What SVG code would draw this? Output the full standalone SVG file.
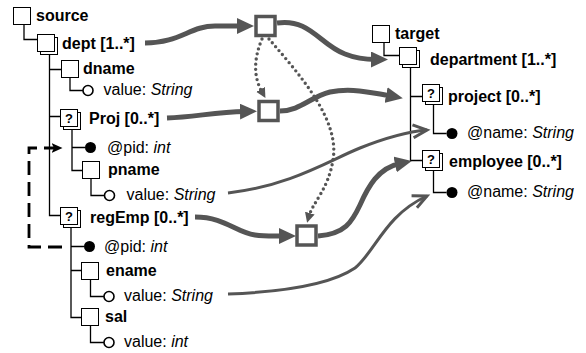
<svg xmlns="http://www.w3.org/2000/svg" xmlns:xlink="http://www.w3.org/1999/xlink" width="586" height="353" viewBox="0 0 586 353">
  <style>
    text { font-family: "Liberation Sans", Arial, sans-serif; font-size: 16px; fill: #000; }
    .lbl { font-weight: bold; }
    .q { font-weight: bold; font-size: 13px; text-anchor: middle; }
    .box { fill: #fff; stroke: #000; stroke-width: 1; }
    .tree { fill: none; stroke: #000; stroke-width: 1.3; }
    .attr { fill: #000; }
    .val { fill: #fff; stroke: #000; stroke-width: 1.6; }
    .map { fill: #fff; stroke: #555; stroke-width: 3.5; }
    .thick { fill: none; stroke: #555; stroke-width: 5; marker-end: url(#head); }
    .thin { fill: none; stroke: #555; stroke-width: 3; marker-end: url(#open); }
    .dots { fill: none; stroke: #555; stroke-width: 3.4; stroke-linecap: round; stroke-dasharray: 0 5.2; marker-end: url(#small); }
    .fk { fill: none; stroke: #000; stroke-width: 2.8; stroke-dasharray: 14 7; marker-end: url(#chev); }
  </style>
  <defs>
    <!-- element icons -->
    <rect id="elem" class="box" x="0" y="0" width="17" height="17"/>
    <g id="set">
      <rect class="box" x="3" y="3" width="17" height="17"/>
      <rect class="box" x="0" y="0" width="17" height="17"/>
    </g>
    <g id="opt">
      <use xlink:href="#set"/>
      <text class="q" x="8.5" y="13.5">?</text>
    </g>
    <!-- arrowheads -->
    <marker id="head" markerUnits="userSpaceOnUse" markerWidth="18" markerHeight="16" refX="5" refY="8" orient="auto" viewBox="0 0 18 16">
      <path d="M0,0 L17,8 L0,16 Z" fill="#555"/>
    </marker>
    <marker id="open" markerUnits="userSpaceOnUse" markerWidth="20" markerHeight="16" refX="15" refY="8" orient="auto" viewBox="0 0 20 16">
      <path d="M1,1.5 L15,8 L1,14.5" fill="none" stroke="#555" stroke-width="3" stroke-linejoin="miter"/>
    </marker>
    <marker id="small" markerUnits="userSpaceOnUse" markerWidth="12" markerHeight="12" refX="3" refY="6" orient="auto" viewBox="0 0 12 12">
      <path d="M0,1 L10,6 L0,11 Z" fill="#555"/>
    </marker>
    <marker id="chev" markerUnits="userSpaceOnUse" markerWidth="12" markerHeight="12" refX="2.5" refY="5" orient="auto" viewBox="0 0 12 10">
      <path d="M0,0 L11,5 L0,10 L2.5,5 Z" fill="#000"/>
    </marker>
  </defs>

  <g id="connectors">
    <!-- source tree edges -->
    <path class="tree" d="M24,24.5 V39.5 H37.5"/>
    <path class="tree" d="M49.5,54.5 V215.5 H60.5 M49.5,69.5 H61.5 M49.5,116.5 H60.5"/>
    <path class="tree" d="M70,77.5 V90.5 H83"/>
    <path class="tree" d="M72,129.5 V170.5 H82.5 M72,147.5 H85"/>
    <path class="tree" d="M91,178.5 V195.5 H104.5"/>
    <path class="tree" d="M71,227.5 V317.5 H81.5 M71,246.5 H84 M71,270.5 H81.5"/>
    <path class="tree" d="M90.5,279.5 V296.5 H104"/>
    <path class="tree" d="M90.5,325.5 V342.5 H104"/>
    <!-- target tree edges -->
    <path class="tree" d="M384,42.5 V55.5 H399.5"/>
    <path class="tree" d="M410.5,67.5 V160.5 H422.5 M410.5,96.5 H422.5"/>
    <path class="tree" d="M433.5,104.5 V133.5 H446.5"/>
    <path class="tree" d="M433.5,170.5 V192.5 H446.5"/>
    <!-- key reference -->
    <path class="fk" d="M62,247 H29 V148 H54"/>
    <!-- mapping flows -->
    <path class="thick" d="M145,43 C180,43 190,26 215,26 L242,26"/>
    <path class="thick" d="M277,23 C310,18 320,45 345,54 C355,58 365,59.5 376,59.5"/>
    <path class="thick" d="M167,118 C195,117 215,112 245,111.5"/>
    <path class="thick" d="M280,111 C300,111 310,97 330,92 C350,88 370,92 391,96"/>
    <path class="thick" d="M195,217 C225,217 235,232 255,235 C265,236.5 275,236 284,236"/>
    <path class="thick" d="M318,236 C345,234 352,222 360,205 C368,187 378,168 400,163.5"/>
    <path class="thin" d="M228,193 C290,186 330,160 360,148 C385,138 405,132 427,130"/>
    <path class="thin" d="M228,294 C280,292 330,285 355,268 C375,252 385,215 427,196"/>
    <path class="dots" d="M262,39 C254,58 253,76 262,92"/>
    <path class="dots" d="M269,39 C300,75 340,120 333,160 C328,190 313,202 309,216"/>
  </g>

  <!-- source schema -->
  <g id="n-source"><use xlink:href="#elem" x="13.5" y="7.5"/><text class="lbl" x="36" y="21">source</text></g>
  <g id="n-dept"><use xlink:href="#set" x="37.5" y="34.5"/><text class="lbl" x="62" y="49">dept [1..*]</text></g>
  <g id="n-dname"><use xlink:href="#elem" x="61.5" y="60.5"/><text class="lbl" x="83" y="74">dname</text></g>
  <g id="n-dname-value"><circle class="val" cx="88" cy="90.5" r="5"/><text x="103.5" y="95">value: <tspan font-style="italic">String</tspan></text></g>
  <g id="n-proj"><use xlink:href="#opt" x="60.5" y="109.5"/><text class="lbl" x="89" y="124">Proj [0..*]</text></g>
  <g id="n-proj-pid"><circle class="attr" cx="90.5" cy="147.5" r="5.5"/><text x="107" y="152.5">@pid: <tspan font-style="italic">int</tspan></text></g>
  <g id="n-pname"><use xlink:href="#elem" x="82.5" y="161.5"/><text class="lbl" x="108" y="175">pname</text></g>
  <g id="n-pname-value"><circle class="val" cx="109.5" cy="195.5" r="5"/><text x="126.5" y="200">value: <tspan font-style="italic">String</tspan></text></g>
  <g id="n-regemp"><use xlink:href="#opt" x="60.5" y="207.5"/><text class="lbl" x="90" y="223">regEmp [0..*]</text></g>
  <g id="n-regemp-pid"><circle class="attr" cx="89.5" cy="246.5" r="5.5"/><text x="104" y="251.5">@pid: <tspan font-style="italic">int</tspan></text></g>
  <g id="n-ename"><use xlink:href="#elem" x="81.5" y="262.5"/><text class="lbl" x="106" y="276">ename</text></g>
  <g id="n-ename-value"><circle class="val" cx="109" cy="296.5" r="5"/><text x="124" y="301">value: <tspan font-style="italic">String</tspan></text></g>
  <g id="n-sal"><use xlink:href="#elem" x="81.5" y="308.5"/><text class="lbl" x="105" y="322">sal</text></g>
  <g id="n-sal-value"><circle class="val" cx="109" cy="342.5" r="5"/><text x="124" y="347">value: <tspan font-style="italic">int</tspan></text></g>

  <!-- mapping nodes -->
  <g id="m1"><rect class="map" x="256" y="16.5" width="19" height="19"/></g>
  <g id="m2"><rect class="map" x="259" y="101.5" width="19" height="19"/></g>
  <g id="m3"><rect class="map" x="297" y="226" width="19" height="19"/></g>

  <!-- target schema -->
  <g id="n-target"><use xlink:href="#elem" x="372.5" y="25.5"/><text class="lbl" x="395" y="39">target</text></g>
  <g id="n-department"><use xlink:href="#set" x="399.5" y="47.5"/><text class="lbl" x="430" y="65">department [1..*]</text></g>
  <g id="n-project"><use xlink:href="#opt" x="422.5" y="84.5"/><text class="lbl" x="448" y="102">project [0..*]</text></g>
  <g id="n-project-name"><circle class="attr" cx="452" cy="133.5" r="5.5"/><text x="467" y="138">@name: <tspan font-style="italic">String</tspan></text></g>
  <g id="n-employee"><use xlink:href="#opt" x="422.5" y="150.5"/><text class="lbl" x="449" y="167">employee [0..*]</text></g>
  <g id="n-employee-name"><circle class="attr" cx="452" cy="192.5" r="5.5"/><text x="467" y="197">@name: <tspan font-style="italic">String</tspan></text></g>
</svg>
